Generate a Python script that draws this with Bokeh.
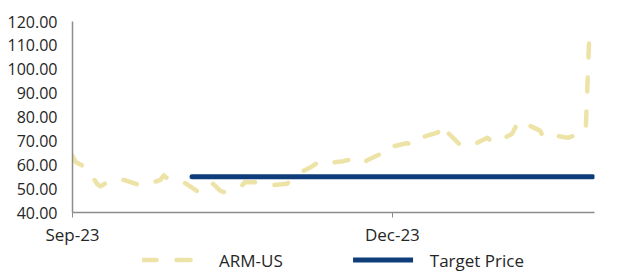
import pandas as pd
from bokeh.plotting import figure
from bokeh.layouts import column
from bokeh.models import (ColumnDataSource, Range1d, FixedTicker, DatetimeTickFormatter,
                          NumeralTickFormatter, Legend, LegendItem)
from bokeh.embed import file_html
from bokeh.resources import INLINE

# ---- data ----
dates = ["2023-09-14", "2023-09-15", "2023-09-18", "2023-09-21", "2023-09-22",
         "2023-09-25", "2023-09-27", "2023-09-29", "2023-10-04", "2023-10-09",
         "2023-10-10", "2023-10-12", "2023-10-16", "2023-10-19", "2023-10-20",
         "2023-10-24", "2023-10-26", "2023-10-27", "2023-11-01", "2023-11-02",
         "2023-11-06", "2023-11-09", "2023-11-14", "2023-11-17", "2023-11-21",
         "2023-11-24", "2023-11-27", "2023-11-30", "2023-12-04", "2023-12-06",
         "2023-12-07", "2023-12-11", "2023-12-12", "2023-12-14", "2023-12-18",
         "2023-12-20", "2023-12-21", "2023-12-27", "2023-12-28", "2023-12-29",
         "2024-01-02", "2024-01-04", "2024-01-05", "2024-01-10", "2024-01-11",
         "2024-01-12", "2024-01-17", "2024-01-19", "2024-01-25", "2024-01-26",
         "2024-01-29", "2024-02-02", "2024-02-07", "2024-02-08", "2024-02-09"]
arm_us = [63.8, 61.0, 58.7, 52.0, 50.9,
          53.8, 54.0, 53.5, 51.0, 53.7,
          55.5, 53.1, 52.3, 49.5, 48.1,
          52.0, 49.2, 48.5, 50.9, 52.7,
          52.7, 51.3, 52.0, 56.2, 59.2,
          62.0, 61.0, 61.5, 62.9, 61.0,
          62.0, 64.8, 64.3, 67.6, 69.0,
          68.5, 70.8, 73.6, 76.8, 74.6,
          68.7, 67.6, 67.6, 71.3, 70.1,
          69.0, 72.9, 78.5, 74.3, 71.3,
          72.2, 71.3, 74.0, 113.4, 115.0]

target_dates = ["2023-10-18", "2024-02-09"]
target_price = [55.0, 55.0]

x_ticks = ["2023-09-14", "2023-12-14"]
y_ticks = [40, 50, 60, 70, 80, 90, 100, 110, 120]

FONT = "Open Sans"
TXT = "#262626"
GOLD = "#EDE3A6"
NAVY = "#0F3D7A"
AXIS = "#8C8C8C"

ARM_STYLE = dict(color=GOLD, line_width=4.5, line_dash="14 20",
                 line_cap="round", line_join="round")
TP_STYLE = dict(color=NAVY, line_width=5, line_cap="round")

src_arm = ColumnDataSource(dict(x=pd.to_datetime(dates), y=arm_us))
src_tp = ColumnDataSource(dict(x=pd.to_datetime(target_dates), y=target_price))

p = figure(width=618, height=248, x_axis_type="datetime",
           output_backend="svg", toolbar_location=None,
           x_range=Range1d(pd.Timestamp("2023-09-14"), pd.Timestamp("2024-02-09 12:00")),
           y_range=Range1d(40, 120),
           min_border_left=72, min_border_right=24, min_border_top=21, min_border_bottom=0)

p.line("x", "y", source=src_arm, **ARM_STYLE)
p.line("x", "y", source=src_tp, **TP_STYLE)

p.xgrid.visible = False
p.ygrid.visible = False
p.outline_line_color = None
p.background_fill_color = "white"
p.border_fill_color = "white"

xa = p.xaxis[0]
xa.ticker = FixedTicker(ticks=[pd.Timestamp(t).value / 1e6 for t in x_ticks])
xa.formatter = DatetimeTickFormatter(days="%b-%y", months="%b-%y", years="%b-%y",
                                     hours="%b-%y", minutes="%b-%y")
xa.minor_tick_line_color = None
xa.major_tick_in = 0
xa.major_tick_out = 5
xa.major_tick_line_color = AXIS
xa.axis_line_color = AXIS
xa.axis_line_width = 1.5
xa.major_label_text_font = FONT
xa.major_label_text_font_size = "17px"
xa.major_label_text_color = TXT
xa.major_label_standoff = 5

ya = p.yaxis[0]
ya.ticker = FixedTicker(ticks=y_ticks)
ya.formatter = NumeralTickFormatter(format="0.00")
ya.minor_tick_line_color = None
ya.major_tick_line_color = None
ya.major_tick_in = 0
ya.major_tick_out = 0
ya.axis_line_color = AXIS
ya.axis_line_width = 1.5
ya.major_label_text_font = FONT
ya.major_label_text_font_size = "16px"
ya.major_label_text_color = TXT
ya.major_label_standoff = 15

# ---- legend strip below the chart ----
lg = figure(width=618, height=23, output_backend="svg", toolbar_location=None,
            x_range=Range1d(0, 1), y_range=Range1d(0, 1),
            min_border_left=38, min_border_right=0, min_border_top=0, min_border_bottom=0)
lg.axis.visible = False
lg.xgrid.visible = False
lg.ygrid.visible = False
lg.outline_line_color = None
l_arm = lg.line([-5, -4], [-5, -4], **ARM_STYLE)
l_tp = lg.line([-5, -4], [-5, -4], **TP_STYLE)

legend = Legend(items=[LegendItem(label="ARM-US", renderers=[l_arm]),
                       LegendItem(label="Target Price", renderers=[l_tp])],
                orientation="horizontal", location="center",
                glyph_width=60, glyph_height=22, label_height=22,
                label_standoff=17, spacing=70,
                padding=0, margin=0, border_line_color=None,
                background_fill_alpha=0,
                label_text_font=FONT, label_text_font_size="17px",
                label_text_color=TXT)
lg.add_layout(legend, "center")

page = column(p, lg, spacing=0)
open("out.html", "w").write(file_html(page, INLINE))
